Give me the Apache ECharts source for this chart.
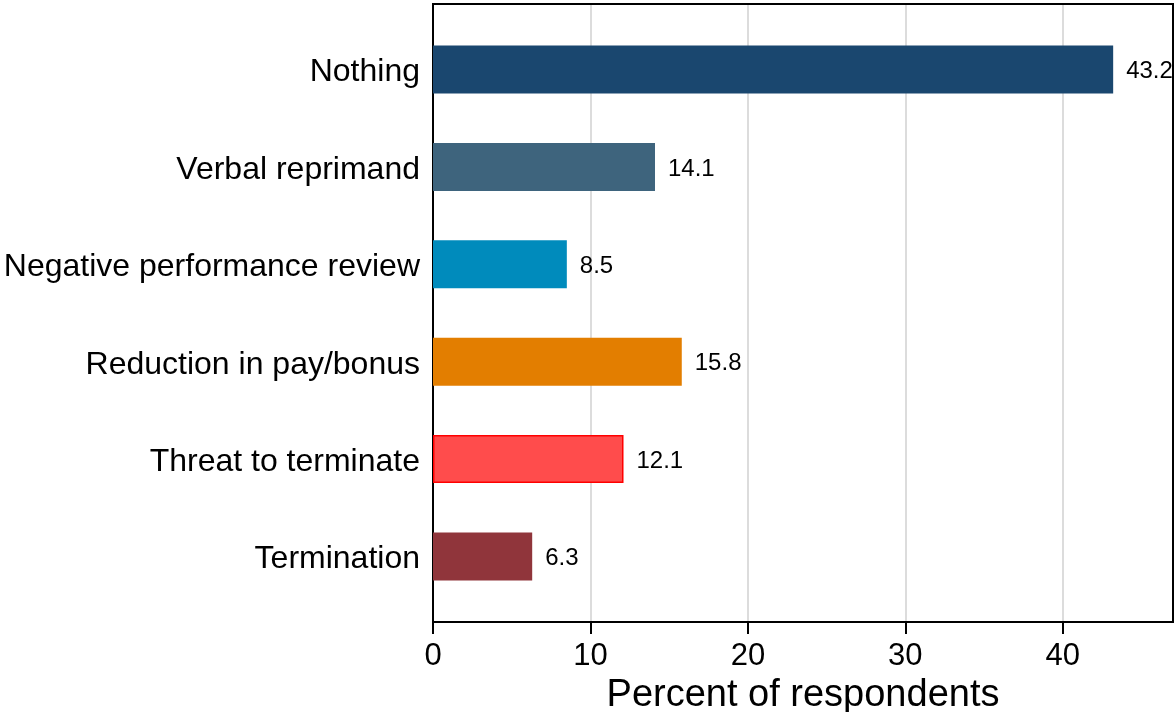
<!DOCTYPE html>
<html>
<head>
<meta charset="utf-8">
<script src="https://cdn.jsdelivr.net/npm/echarts@6/dist/echarts.min.js"></script>
<style>html,body{margin:0;padding:0;background:#fff}#c{width:1175px;height:712px}</style>
</head>
<body>
<div id="c"></div>
<script>
const categories = ["Nothing", "Verbal reprimand", "Negative performance review", "Reduction in pay/bonus", "Threat to terminate", "Termination"];
const values = [43.2, 14.1, 8.5, 15.8, 12.1, 6.3];
const barColors = ["#1a476f", "#3e647d", "#008bbc", "#e37e00", "#ff4c4c", "#90353b"];
const barBorders = [null, null, null, null, "#ff0000", null];
const xMin = 0, xMax = 47, xInterval = 10;
const xTitle = "Percent of respondents";

const FONT = "'Liberation Sans', Arial, Helvetica, sans-serif";
const chart = echarts.init(document.getElementById('c'), null, {renderer: 'canvas'});
chart.setOption({
  animation: false,
  textStyle: {fontFamily: FONT},
  grid: [
    {left: 433, right: 2, top: 4, bottom: 90, show: true, borderColor: '#000', borderWidth: 2, backgroundColor: 'transparent', containLabel: false, outerBoundsMode: 'none', z: 3},
    {left: 433, right: 2, top: 20.8, bottom: 106.8, containLabel: false, outerBoundsMode: 'none'}
  ],
  xAxis: [
    {
      type: 'value', gridIndex: 0, min: xMin, max: xMax, interval: xInterval,
      axisLine: {show: true, lineStyle: {color: '#000', width: 2}},
      axisTick: {show: true, inside: false, length: 12, lineStyle: {color: '#000', width: 2}},
      axisLabel: {show: true, color: '#000', fontSize: 31, margin: 19, fontFamily: FONT, showMaxLabel: false},
      splitLine: {show: true, lineStyle: {color: '#dcdcdc', width: 2}},
      name: xTitle, nameLocation: 'middle', nameGap: 46,
      nameTextStyle: {color: '#000', fontSize: 38, fontFamily: FONT}
    },
    {
      type: 'value', gridIndex: 1, min: xMin, max: xMax, show: false
    }
  ],
  yAxis: [
    {type: 'value', gridIndex: 0, show: false, min: 0, max: 1},
    {
      type: 'category', gridIndex: 1, data: categories, inverse: true,
      axisLine: {show: false}, axisTick: {show: false},
      axisLabel: {color: '#000', fontSize: 32, margin: 13, fontFamily: FONT,
        formatter: v => '{a|' + v + '}',
        rich: {a: {color: '#000', fontSize: 32, fontFamily: FONT, padding: [6, 0, 0, 0]}}},
      splitLine: {show: false}
    }
  ],
  series: [{
    type: 'bar', xAxisIndex: 1, yAxisIndex: 1, barWidth: 48,
    data: values.map((v, i) => ({
      value: v,
      itemStyle: {color: barColors[i], borderColor: barBorders[i] || barColors[i], borderWidth: barBorders[i] ? 1.5 : 0}
    })),
    label: {show: true, position: 'right', distance: 13, color: '#000', fontSize: 24, fontFamily: FONT,
      formatter: p => '{b|' + p.value.toFixed(1) + '}',
      rich: {b: {color: '#000', fontSize: 24, fontFamily: FONT, padding: [4, 0, 0, 0]}}},
    z: 5
  }]
});
</script>
</body>
</html>
